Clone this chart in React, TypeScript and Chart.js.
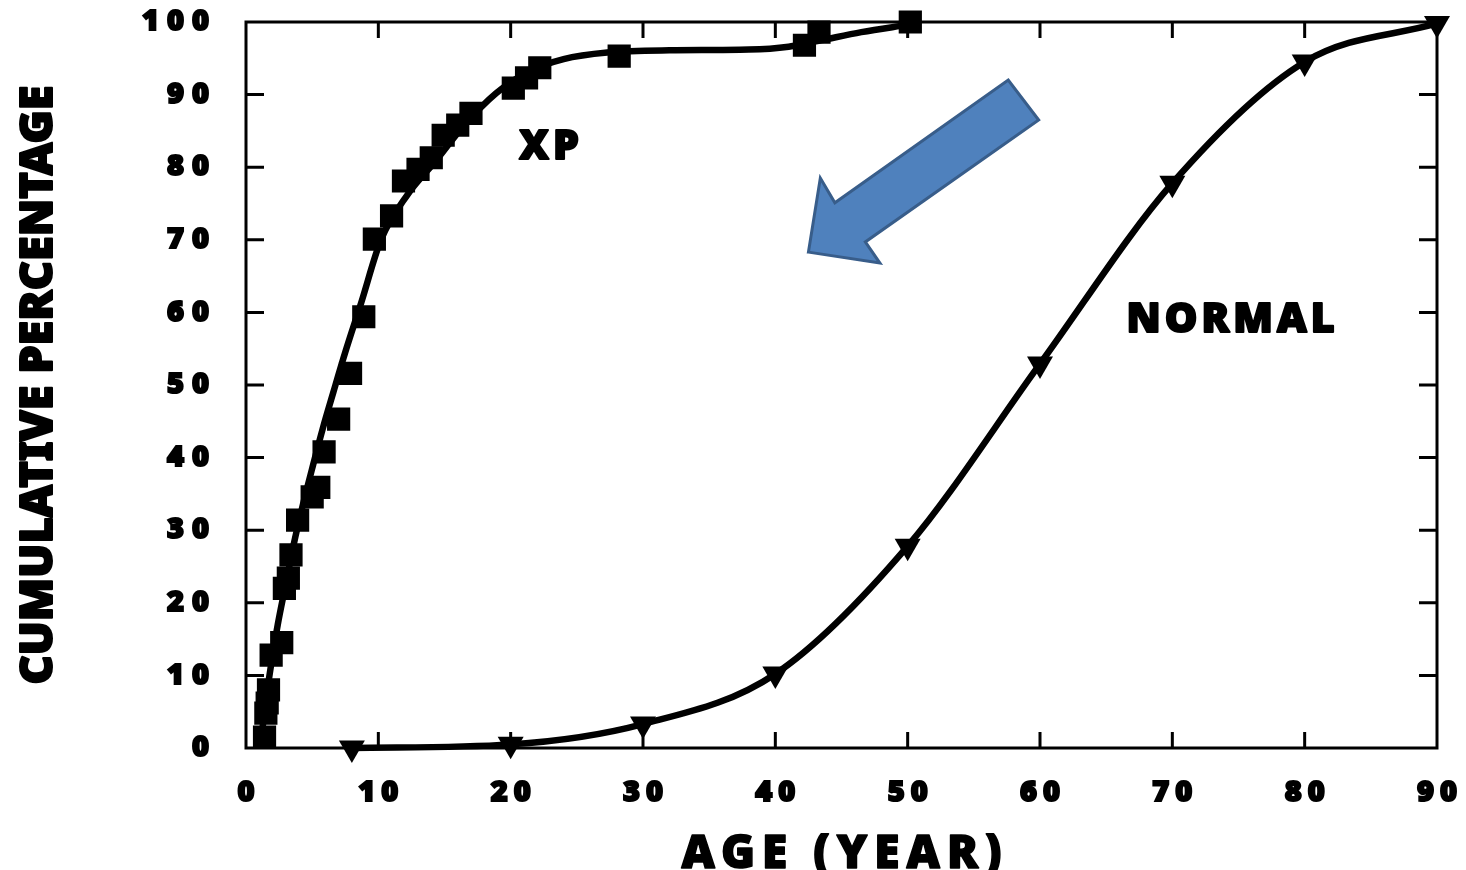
import { useEffect, useRef } from "react";
import { Chart, registerables } from "chart.js";

Chart.register(...registerables);

// XP patients: individual observations (age in years, cumulative %)
const xpAge = [1.4, 1.5, 1.6, 1.7, 1.9, 2.7, 2.9, 3.2, 3.4, 3.9, 5.0, 5.5, 5.9, 7.0, 7.9, 8.9, 9.7, 11.0, 11.9, 13.0, 14.0, 14.9, 16.0, 17.0, 20.2, 21.2, 22.2, 28.2, 42.2, 43.3, 50.2];
const xpPct = [1.5, 4.8, 6.2, 8.0, 12.8, 14.5, 22.0, 23.4, 26.6, 31.4, 34.6, 35.9, 40.8, 45.3, 51.6, 59.4, 70.1, 73.3, 78.1, 79.7, 81.3, 84.4, 85.8, 87.4, 90.9, 92.3, 93.7, 95.3, 96.8, 98.6, 100];

// Smoothed curve fitted to the XP observations
const xpFitAge = [1.2, 1.5, 1.9, 2.4, 3.0, 3.6, 4.3, 5.0, 5.8, 6.6, 7.5, 8.7, 10.2, 12.2, 14.4, 16.4, 18.9, 21.4, 24, 27.3, 32, 38, 41, 43.5, 46.5, 50];
const xpFitPct = [2, 6.5, 11.5, 17, 22.5, 28, 33.5, 38.5, 44, 49, 54.5, 61.3, 70, 76.2, 81, 85.6, 90.2, 93.2, 94.9, 95.8, 96.1, 96.2, 96.6, 97.5, 98.6, 99.6];

// Normal population
const normalAge = [8, 20, 30, 40, 50, 60, 70, 80, 90];
const normalPct = [0, 0.5, 3.3, 10.2, 27.8, 52.9, 77.8, 94.5, 99.8];

// Axis ticks
const xTickValues = [0, 10, 20, 30, 40, 50, 60, 70, 80, 90];
const yTickValues = [0, 10, 20, 30, 40, 50, 60, 70, 80, 90, 100];

// Direction arrow outline (age, %)
const arrowAge = [42.5, 47.9, 46.8, 59.9, 57.6, 44.5, 43.4];
const arrowPct = [68.3, 66.8, 69.7, 86.5, 92.0, 75.1, 78.5];

// Curve labels (text, age, %)
const curveLabels = [
  { text: "XP", age: 22.9, pct: 83 },
  { text: "NORMAL", age: 74.4, pct: 59.2 },
];

const FAMILY = "'Noto Sans', 'DejaVu Sans', sans-serif";
const INK = "#000000";

// Extra tracking and outline weight for the axis texts (px)
const axisText: Record<string, { labels: number; title: number; titleStroke: number }> = {
  x: { labels: 6, title: 7, titleStroke: 1.5 },
  y: { labels: 8, title: 0, titleStroke: 2 },
};

const framePlugin = {
  id: "frameAndExtras",
  beforeDraw(chart: any) {
    const ctx = chart.ctx;
    for (const id of Object.keys(axisText)) {
      const s: any = chart.scales[id];
      if (!s || s.__spaced) continue;
      s.__spaced = true;
      const proto = Object.getPrototypeOf(s);
      const sp = axisText[id];
      s.drawLabels = function (area: any) {
        ctx.save();
        (ctx as any).letterSpacing = `${sp.labels}px`;
        // the trailing gap that tracking adds is taken back out
        ctx.translate(id === "x" ? sp.labels / 2 : sp.labels, 0);
        proto.drawLabels.call(this, area);
        ctx.restore();
      };
      s.drawTitle = function () {
        ctx.save();
        (ctx as any).letterSpacing = `${sp.title}px`;
        if (id === "x") ctx.translate(sp.title / 2, 2);
        else ctx.translate(0, -sp.title / 2);
        // heavier title strokes: outline each glyph after filling it
        const fill = ctx.fillText;
        ctx.strokeStyle = INK;
        ctx.lineWidth = sp.titleStroke;
        ctx.lineJoin = "round";
        ctx.fillText = function (t: string, x: number, y: number, w?: number) {
          fill.call(this, t, x, y, w);
          this.strokeText(t, x, y, w);
        } as any;
        try {
          proto.drawTitle.call(this);
        } finally {
          ctx.fillText = fill;
          ctx.restore();
        }
      };
    }
  },
  beforeDatasetsDraw(chart: any) {
    const { ctx, chartArea: a, scales } = chart;
    const xs = scales.x;
    const ys = scales.y;
    ctx.save();
    ctx.strokeStyle = INK;
    ctx.lineWidth = 3;
    ctx.strokeRect(a.left, a.top, a.right - a.left, a.bottom - a.top);
    const tl = 16;
    ctx.beginPath();
    for (const v of xTickValues) {
      if (v === xs.min || v === xs.max) continue;
      const px = xs.getPixelForValue(v);
      ctx.moveTo(px, a.bottom);
      ctx.lineTo(px, a.bottom - tl);
      ctx.moveTo(px, a.top);
      ctx.lineTo(px, a.top + tl);
    }
    for (const v of yTickValues) {
      if (v === ys.min || v === ys.max) continue;
      const py = ys.getPixelForValue(v);
      ctx.moveTo(a.left, py);
      ctx.lineTo(a.left + tl + 2, py);
      ctx.moveTo(a.right, py);
      ctx.lineTo(a.right - tl - 2, py);
    }
    ctx.stroke();
    ctx.restore();
  },
  afterDatasetsDraw(chart: any) {
    const { ctx, scales } = chart;
    const xs = scales.x;
    const ys = scales.y;
    ctx.save();
    ctx.beginPath();
    arrowAge.forEach((ag, i) => {
      const px = xs.getPixelForValue(ag);
      const py = ys.getPixelForValue(arrowPct[i]);
      if (i === 0) ctx.moveTo(px, py);
      else ctx.lineTo(px, py);
    });
    ctx.closePath();
    ctx.fillStyle = "#4F81BD";
    ctx.fill();
    ctx.lineJoin = "miter";
    ctx.lineWidth = 3;
    ctx.strokeStyle = "#385D8A";
    ctx.stroke();
    ctx.fillStyle = INK;
    ctx.strokeStyle = INK;
    ctx.lineWidth = 2;
    ctx.lineJoin = "round";
    ctx.textAlign = "center";
    ctx.textBaseline = "middle";
    ctx.font = `900 41px ${FAMILY}`;
    (ctx as any).letterSpacing = "4px";
    for (const l of curveLabels) {
      const px = xs.getPixelForValue(l.age) + 2;
      const py = ys.getPixelForValue(l.pct) + 2;
      ctx.fillText(l.text, px, py);
      ctx.strokeText(l.text, px, py);
    }
    ctx.restore();
  },
};

const zeroPadding = (s: any) => {
  s.paddingTop = 0;
  s.paddingBottom = 0;
  s.paddingLeft = 0;
  s.paddingRight = 0;
};

const tickFont = { family: FAMILY, size: 29, weight: "900" as any };

export default function App() {
  const canvasRef = useRef<HTMLCanvasElement | null>(null);

  useEffect(() => {
    const canvas = canvasRef.current;
    if (!canvas) return;
    const chart = new Chart(canvas, {
      type: "scatter",
      data: {
        datasets: [
          {
            label: "XP fit",
            type: "line",
            data: xpFitAge.map((a, i) => ({ x: a, y: xpFitPct[i] })),
            borderColor: INK,
            borderWidth: 6.5,
            pointRadius: 0,
            showLine: true,
            fill: false,
            cubicInterpolationMode: "monotone",
            clip: false as any,
          },
          {
            label: "XP",
            data: xpAge.map((a, i) => ({ x: a, y: xpPct[i] })),
            pointStyle: "rect",
            pointRadius: 15,
            pointBorderWidth: 2,
            backgroundColor: INK,
            borderColor: INK,
            showLine: false,
            clip: false as any,
          },
          {
            label: "NORMAL",
            type: "line",
            data: normalAge.map((a, i) => ({ x: a, y: normalPct[i] })),
            borderColor: INK,
            borderWidth: 6.5,
            pointStyle: "triangle",
            pointRotation: 180,
            pointRadius: 15,
            pointBorderWidth: 0,
            pointBackgroundColor: INK,
            showLine: true,
            fill: false,
            cubicInterpolationMode: "monotone",
            clip: false as any,
          },
        ],
      },
      options: {
        animation: false,
        responsive: true,
        maintainAspectRatio: false,
        events: [],
        layout: { padding: { top: 22, right: 29, bottom: 0, left: 0 } },
        plugins: {
          legend: { display: false },
          tooltip: { enabled: false },
          title: { display: false },
        },
        scales: {
          x: {
            type: "linear",
            min: 0,
            max: 90,
            afterBuildTicks: (s: any) => {
              s.ticks = xTickValues.map((v) => ({ value: v }));
            },
            afterFit: (s: any) => {
              s.height = 122;
              zeroPadding(s);
            },
            grid: { display: false },
            border: { display: false },
            ticks: {
              color: INK,
              padding: 19,
              maxRotation: 0,
              autoSkip: false,
              textStrokeColor: INK,
              textStrokeWidth: 2,
              font: tickFont,
            },
            title: {
              display: true,
              text: "AGE (YEAR)",
              color: INK,
              padding: { top: 0, bottom: 0 },
              font: { family: FAMILY, size: 46, weight: "900" as any, lineHeight: 0.75 },
            },
          },
          y: {
            type: "linear",
            min: 0,
            max: 100,
            afterBuildTicks: (s: any) => {
              s.ticks = yTickValues.map((v) => ({ value: v }));
            },
            afterFit: (s: any) => {
              s.width = 246;
              zeroPadding(s);
            },
            grid: { display: false },
            border: { display: false },
            ticks: {
              color: INK,
              padding: 29,
              autoSkip: false,
              textStrokeColor: INK,
              textStrokeWidth: 2,
              font: tickFont,
            },
            title: {
              display: true,
              text: "CUMULATIVE PERCENTAGE",
              color: INK,
              padding: { top: 12, bottom: 0 },
              font: { family: FAMILY, size: 45, weight: "900" as any, lineHeight: 1.2 },
            },
          },
        },
      },
      plugins: [framePlugin],
    });
    return () => chart.destroy();
  }, []);

  return (
    <div style={{ position: "fixed", left: 0, top: 0, width: 1466, height: 870, background: "#ffffff" }}>
      <canvas ref={canvasRef} />
    </div>
  );
}
